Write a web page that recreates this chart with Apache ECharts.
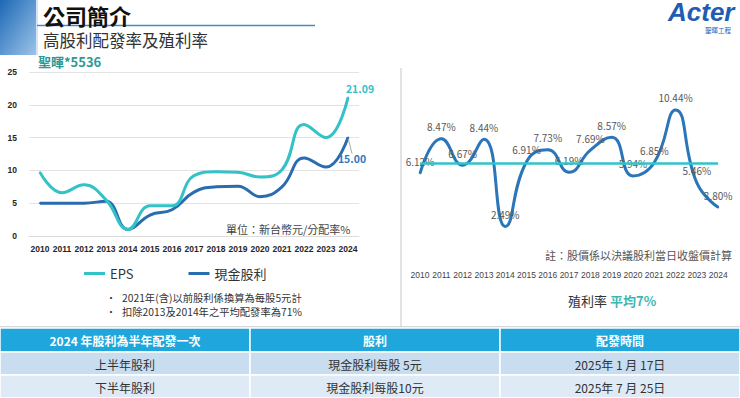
<!DOCTYPE html>
<html>
<head>
<meta charset="utf-8">
<script src="https://cdn.jsdelivr.net/npm/echarts@6/dist/echarts.min.js"></script>
<style>
html, body { margin: 0; padding: 0; background: #fff; }
#main { width: 740px; height: 398px; }
</style>
</head>
<body>
<div id="main"></div>
<script>
// 資料
var years = ['2010', '2011', '2012', '2013', '2014', '2015', '2016', '2017', '2018', '2019', '2020', '2021', '2022', '2023', '2024'];
var eps = [9.7, 6.6, 7.8, 5.5, 1.0, 4.6, 4.6, 9.2, 9.8, 9.7, 9.0, 10.1, 17.0, 15.0, 21.09];
var cashDividend = [5.0, 5.0, 5.0, 5.3, 1.0, 3.2, 4.0, 6.7, 7.5, 7.6, 6.0, 7.5, 11.9, 10.5, 15.0];
var yieldRate = [6.12, 8.47, 6.67, 8.44, 2.49, 6.91, 7.73, 6.19, 7.69, 8.57, 5.94, 6.85, 10.44, 5.46, 3.80];
var yieldAvg = 6.78;

var bullets = ['2021年(含)以前股利係換算為每股5元計', '扣除2013及2014年之平均配發率為71%'];
var tableHead = ['2024 年股利為半年配發一次', '股利', '配發時間'];
var tableRows = [
    ['上半年股利', '現金股利每股 5元', '2025年 1 月 17日'],
    ['下半年股利', '現金股利每股10元', '2025年 7 月 25日']
];

var font = "'Noto Sans CJK TC', 'Noto Sans', sans-serif";
var latin = "'Liberation Sans', Arial, sans-serif";
var cyan = '#33c2c8';
var blue = '#2a6cb0';
var last = years.length - 1;

var chart = echarts.init(document.getElementById('main'), null, { renderer: 'svg' });

function txt(text, x, y, size, color, opts) {
    opts = opts || {};
    return {
        type: 'text',
        z: 10,
        style: {
            text: text, x: x, y: y,
            fontSize: size, fontFamily: opts.family || font,
            fontWeight: opts.bold ? 'bold' : 'normal',
            fontStyle: opts.italic ? 'italic' : 'normal',
            fill: color,
            align: opts.align || 'left',
            verticalAlign: 'middle'
        }
    };
}

var graphics = [
    { type: 'rect', shape: { x: 0, y: 0, width: 36, height: 55 },
      style: { fill: new echarts.graphic.LinearGradient(0, 0, 1, 1, [
          { offset: 0, color: '#1d68b5' }, { offset: 1, color: '#9cc4e9' }]) } },
    { type: 'rect', shape: { x: 36, y: 0, width: 2, height: 55 }, style: { fill: '#d3e4f4' } },
    txt('公司簡介', 43, 14.5, 22, '#111', { bold: true }),
    { type: 'line', shape: { x1: 37, y1: 25.5, x2: 315, y2: 25.5 }, style: { stroke: '#4a86c8', lineWidth: 1.5 } },
    txt('高股利配發率及殖利率', 43, 40, 16.5, '#333'),
    txt('聖暉*5536', 38, 61, 13, '#2a9a96', { bold: true }),
    txt('Acter', 668, 12, 26, '#1f5cb3', { bold: true, italic: true, family: latin }),
    txt('聖暉工程', 705, 30, 6.5, '#1f5cb3'),
    txt('單位：新台幣元/分配率%', 226, 229, 11, '#444'),
    txt('註：股價係以決議股利當日收盤價計算', 732, 255, 11, '#555', { align: 'right' }),
    txt('殖利率', 568, 300, 13, '#333'),
    txt('平均7%', 610, 300, 13, '#3bb8b2', { bold: true }),
    { type: 'line', shape: { x1: 401, y1: 68, x2: 401, y2: 328 }, style: { stroke: '#d0d0d0', lineWidth: 1.2 } },
    { type: 'line', shape: { x1: 0, y1: 327, x2: 740, y2: 327 }, style: { stroke: '#c8c8c8', lineWidth: 1.5 } }
];

bullets.forEach(function (b, i) {
    graphics.push(txt('•', 106, 297 + i * 14, 10, '#333'));
    graphics.push(txt(b, 122, 297 + i * 14, 10.3, '#333'));
});

// 表格
var colX = [0, 250, 500, 740];
var rowY = [328, 352, 375, 398];
var rowFill = ['#1ea6dd', '#c8ddf0', '#deeaf6'];
for (var r = 0; r < 3; r++) {
    var cells = r === 0 ? tableHead : tableRows[r - 1];
    for (var c = 0; c < 3; c++) {
        graphics.push({
            type: 'rect',
            shape: { x: colX[c], y: rowY[r], width: colX[c + 1] - colX[c], height: rowY[r + 1] - rowY[r] },
            style: { fill: rowFill[r], stroke: '#fff', lineWidth: 1.5 }
        });
        graphics.push(txt(cells[c], (colX[c] + colX[c + 1]) / 2, (rowY[r] + rowY[r + 1]) / 2 + 0.5, 12,
            r === 0 ? '#fff' : '#333', { align: 'center', bold: r === 0 }));
    }
}

var option = {
    animation: false,
    textStyle: { fontFamily: font },
    legend: {
        data: ['EPS', '現金股利'],
        left: 79, top: 262,
        icon: 'rect', itemWidth: 21, itemHeight: 3, itemGap: 55,
        textStyle: { fontSize: 13, color: '#333', fontFamily: font }
    },
    grid: [
        { left: 29, top: 72, width: 330, height: 164 },
        { left: 409.4, top: 87, width: 319.4, height: 176 }
    ],
    xAxis: [
        {
            type: 'category', gridIndex: 0, data: years, boundaryGap: true,
            axisLine: { lineStyle: { color: '#dcdcdc' } },
            axisTick: { show: false },
            axisLabel: { interval: 0, fontSize: 8.5, color: '#262626', margin: 8, fontWeight: 'bold', fontFamily: latin }
        },
        {
            type: 'category', gridIndex: 1, data: years, boundaryGap: true,
            axisLine: { show: false }, axisTick: { show: false },
            axisLabel: { interval: 0, fontSize: 8.5, color: '#444', margin: 7, fontFamily: latin }
        }
    ],
    yAxis: [
        {
            type: 'value', gridIndex: 0, min: 0, max: 25, interval: 5,
            axisLine: { show: false }, axisTick: { show: false },
            axisLabel: { fontSize: 8.5, color: '#262626', margin: 12, fontWeight: 'bold', fontFamily: latin },
            splitLine: { lineStyle: { color: '#e3e3e3' } }
        },
        { type: 'value', gridIndex: 1, min: 0, max: 12, show: false }
    ],
    series: [
        {
            name: 'EPS', type: 'line', xAxisIndex: 0, yAxisIndex: 0,
            smooth: 0.45, symbol: 'circle', symbolSize: 2, showSymbol: true,
            lineStyle: { color: cyan, width: 3 }, itemStyle: { color: cyan },
            data: eps.map(function (v, i) {
                return i === last ? { value: v, label: { show: true, position: 'top', offset: [12, 2],
                    formatter: function (p) { return p.value.toFixed(2); },
                    color: cyan, fontSize: 10.5, fontWeight: 'bold' } } : v;
            }),
            z: 3
        },
        {
            name: '現金股利', type: 'line', xAxisIndex: 0, yAxisIndex: 0,
            smooth: 0.45, symbol: 'circle', symbolSize: 2, showSymbol: true,
            lineStyle: { color: blue, width: 3 }, itemStyle: { color: blue },
            data: cashDividend.map(function (v, i) {
                return i === last ? { value: v, label: { show: true, position: 'bottom',
                    formatter: function (p) { return p.value.toFixed(2); },
                    color: '#2e78c0', fontSize: 10.5, fontWeight: 'bold' } } : v;
            }),
            labelLayout: { dx: 4, dy: 10 },
            labelLine: { show: true, lineStyle: { color: '#aaa', width: 1 } },
            z: 2
        },
        {
            name: '殖利率', type: 'line', xAxisIndex: 1, yAxisIndex: 1,
            smooth: 0.5, symbol: 'circle', symbolSize: 2, showSymbol: true,
            lineStyle: { color: '#2b76b8', width: 3 }, itemStyle: { color: '#2b76b8' },
            label: {
                show: true, position: 'top', distance: 6, fontSize: 10, color: '#595959',
                formatter: function (p) { return p.value.toFixed(2) + '%'; }
            },
            markLine: {
                silent: true, symbol: 'none', label: { show: false },
                lineStyle: { color: '#2fc4ca', width: 2.5, type: 'solid' },
                data: [[{ coord: [years[0], yieldAvg] }, { coord: [years[last], yieldAvg] }]]
            },
            data: yieldRate
        }
    ],
    graphic: graphics
};

chart.setOption(option);
</script>
</body>
</html>
